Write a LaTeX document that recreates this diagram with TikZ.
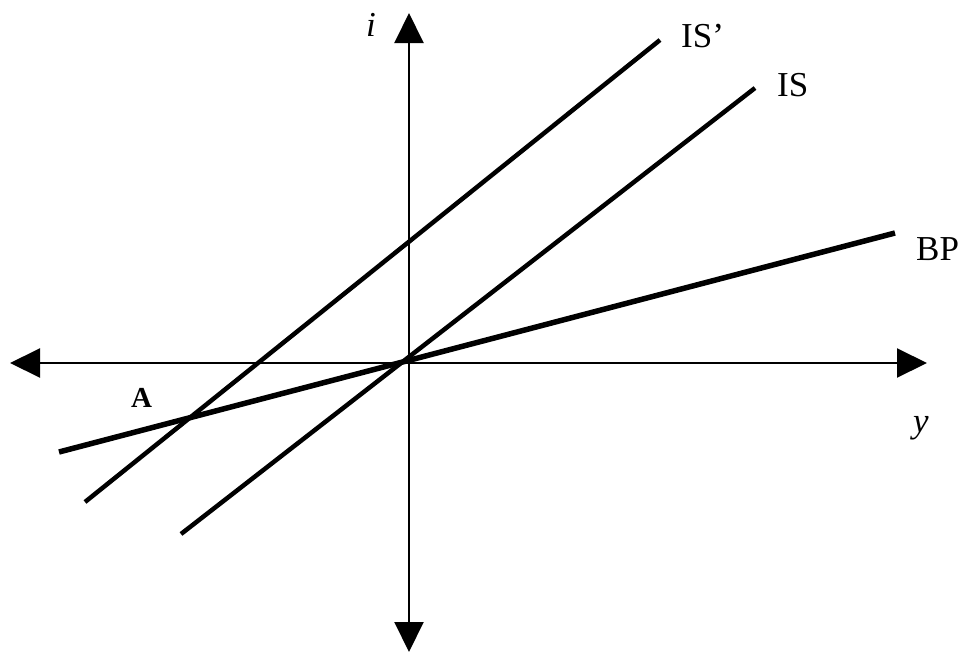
\documentclass[tikz,border=0pt]{standalone}
\usepackage{fontspec}
\setmainfont{Liberation Serif}
\usetikzlibrary{arrows.meta}
\tikzset{
  axis/.style={line width=2pt, {Triangle[length=30pt,width=29pt]}-{Triangle[length=30pt,width=29pt]}},
  curve/.style={line width=4.5pt},
  bpcurve/.style={line width=5.5pt},
  lbl/.style={font=\fontsize{35}{40}\selectfont, inner sep=0pt, anchor=base west},
  albl/.style={font=\fontsize{29}{32}\selectfont\bfseries, inner sep=0pt, anchor=base west}
}
\begin{document}
\begin{tikzpicture}[x=1pt,y=-1pt]
\useasboundingbox (0,0) rectangle (967,654);
\coordinate (xl) at (10,363);
\coordinate (xr) at (927,363);
\coordinate (yt) at (409,13);
\coordinate (yb) at (409,652);
\draw[axis] (xl) -- (xr);
\draw[axis] (yb) -- (yt);
\coordinate (isp1) at (85,502);
\coordinate (isp2) at (660,40);
\coordinate (is1) at (181,534);
\coordinate (is2) at (755,88);
\coordinate (bp1) at (59,452);
\coordinate (bp2) at (895,233);
\draw[curve] (isp1) -- (isp2);
\draw[curve] (is1) -- (is2);
\draw[bpcurve] (bp1) -- (bp2);
\node[lbl] (li) at (366,36) {\textit{i}};
\node[lbl] (lisp) at (681,47) {IS’};
\node[lbl] (lis) at (777,96) {IS};
\node[lbl] (lbp) at (916,260) {BP};
\node[albl] (la) at (131,407) {A};
\node[lbl] (ly) at (913,432) {\textit{y}};
\end{tikzpicture}
\end{document}
